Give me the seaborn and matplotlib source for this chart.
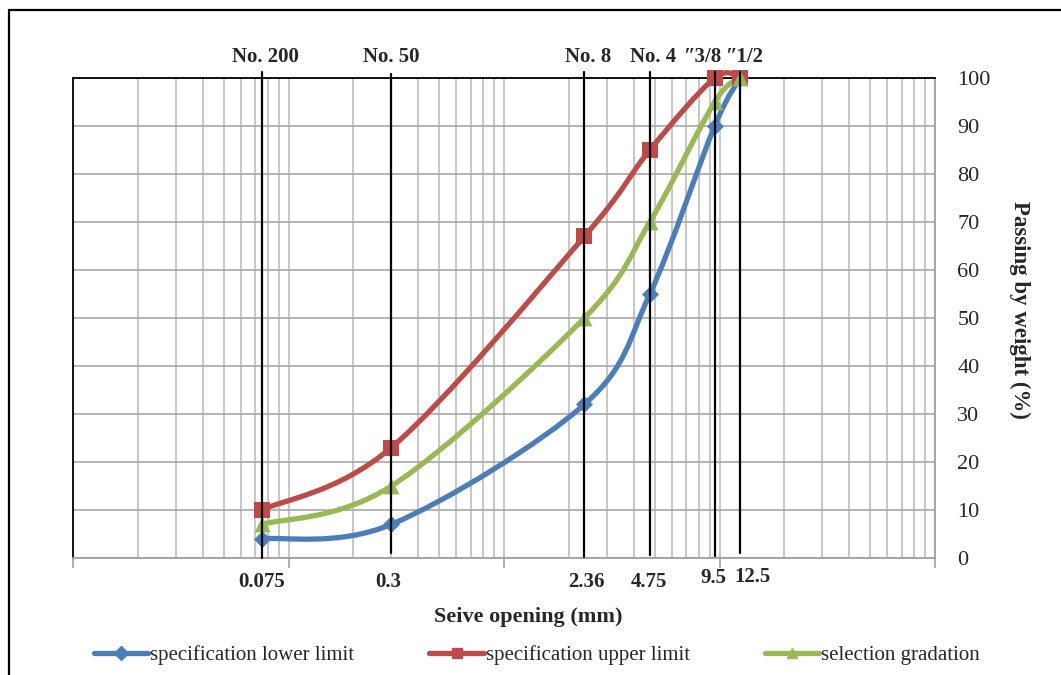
import numpy as np
import pandas as pd
import matplotlib
matplotlib.use("Agg")
import matplotlib.pyplot as plt
import seaborn as sns
from matplotlib.path import Path
from matplotlib.patches import PathPatch
from matplotlib.lines import Line2D
from matplotlib.ticker import LogLocator, NullFormatter

# ---------------- data ----------------
sieve_mm = [0.075, 0.3, 2.36, 4.75, 9.5, 12.5]
sieve_names = ["No. 200", "No. 50", "No. 8", "No. 4", "\u20333/8", "\u20331/2"]
sieve_labels = ["0.075", "0.3", "2.36", "4.75", "9.5", "12.5"]
lower_limit = [4, 7, 32, 55, 90, 100]
upper_limit = [10, 23, 67, 85, 100, 100]
selection = [7, 15, 50, 70, 95, 100]
series_names = ["specification lower limit", "specification upper limit", "selection gradation"]
y_ticks = list(range(0, 101, 10))

# ---------------- style ----------------
colors = ["#4a7ebb", "#be4b48", "#98b954"]
markers = ["D", "s", "^"]
marker_sizes = [75, 120, 130]
# label offsets in pixels (dx, dy)
top_offsets = [(4, 0), (0, 0), (4, 0), (3, 0), (-12, 0), (5, 0)]
bot_offsets = [(0, 0), (-3, 0), (2, 0), (-1, 0), (-1, 4), (12, 5)]

sns.set_theme(style="white")
plt.rcParams["font.family"] = ["Liberation Serif", "DejaVu Serif"]

W, H = 1061, 675
fig = plt.figure(figsize=(W / 100, H / 100), dpi=100)
ax = fig.add_axes([73 / W, 1 - 558 / H, (935 - 73) / W, 480 / H])
ax.set_xscale("log")
ax.set_xlim(0.01, 100)
ax.set_ylim(0, 100)

# grid
ax.xaxis.set_major_locator(LogLocator(base=10, numticks=10))
ax.xaxis.set_minor_locator(LogLocator(base=10, subs=np.arange(2, 10), numticks=20))
ax.xaxis.set_major_formatter(NullFormatter())
ax.xaxis.set_minor_formatter(NullFormatter())
ax.grid(which="both", axis="x", color="#bdbdbd", lw=1.2)
ax.grid(which="major", axis="y", color="#a8a8a8", lw=1.2)
ax.set_axisbelow(True)
ax.tick_params(axis="x", which="major", length=7, width=1.2, color="#a0a0a0", direction="out", bottom=True)
ax.tick_params(axis="x", which="minor", length=0)

ax.yaxis.tick_right()
ax.set_yticks(y_ticks)
ax.set_yticklabels([str(v) for v in y_ticks], fontsize=16)
ax.tick_params(axis="y", length=0, pad=16)

for side, col in [("left", "black"), ("top", "black"), ("bottom", "#a0a0a0"), ("right", "#a0a0a0")]:
    ax.spines[side].set_visible(True)
    ax.spines[side].set_color(col)
    ax.spines[side].set_linewidth(1.3)


def smooth_path(xs, ys):
    P = np.column_stack([np.log10(xs), np.asarray(ys, float)])
    n = len(P)
    verts = [P[0]]
    codes = [Path.MOVETO]
    for i in range(n - 1):
        p0 = P[max(i - 1, 0)]
        p1 = P[i]
        p2 = P[i + 1]
        p3 = P[min(i + 2, n - 1)]
        c1 = p1 + (p2 - p0) / 6.0
        c2 = p2 - (p3 - p1) / 6.0
        verts += [c1, c2, p2]
        codes += [Path.CURVE4] * 3
    V = np.array(verts)
    V[:, 0] = 10 ** V[:, 0]
    return Path(V, codes)


series_values = [lower_limit, upper_limit, selection]
df = pd.DataFrame({
    "sieve": np.tile(sieve_mm, 3),
    "passing": np.concatenate(series_values),
    "series": np.repeat(series_names, len(sieve_mm)),
})

for name, vals, c, m, s in zip(series_names, series_values, colors, markers, marker_sizes):
    patch = PathPatch(smooth_path(sieve_mm, vals), facecolor="none", edgecolor=c,
                      lw=3.8, transform=ax.transData, zorder=3, clip_on=False,
                      capstyle="round", joinstyle="round")
    ax.add_patch(patch)
    sub = df[df["series"] == name]
    sns.scatterplot(data=sub, x="sieve", y="passing", color=c, marker=m, s=s,
                    linewidth=0, ax=ax, legend=False, zorder=4, clip_on=False)

ax.set_xlabel("")
ax.set_ylabel("")

# black sieve lines
line_tops = [101.3, 100.8, 101.3, 101.3, 101.3, 101.3]
line_bottoms = [0.0, 1.0, 0.2, 0.6, 0.4, 1.0]
for x, y0, y1 in zip(sieve_mm, line_bottoms, line_tops):
    ax.plot([x, x], [y0, y1], color="black", lw=1.6, clip_on=False, zorder=5)

# top sieve names
for x, name, (dx, dy) in zip(sieve_mm, sieve_names, top_offsets):
    ax.annotate(name, xy=(x, 104.4), xytext=(dx, dy), textcoords="offset pixels",
                ha="center", va="center", fontsize=15, fontweight="bold",
                annotation_clip=False)

# bottom sieve openings
for x, lab, (dx, dy) in zip(sieve_mm, sieve_labels, bot_offsets):
    ax.annotate(lab, xy=(x, -5.0), xytext=(dx, dy), textcoords="offset pixels",
                ha="center", va="center", fontsize=15, fontweight="bold",
                annotation_clip=False)

fig.text(528 / W, 1 - 617 / H, "Seive opening (mm)", ha="center", va="center",
         fontsize=16, fontweight="bold")
fig.text(1020 / W, 1 - 310 / H, "Passing by weight (%)", ha="center", va="center",
         fontsize=16.5, fontweight="bold", rotation=270)

handles = [Line2D([], [], color=c, lw=3.8, marker=m, markersize=7)
           for c, m in zip(colors, markers)]
fig.legend(handles, series_names, loc="center", bbox_to_anchor=(537 / W, 1 - 655 / H),
           ncol=3, frameon=False, fontsize=15, handlelength=2.6, handletextpad=0.1,
           columnspacing=3.6)

# outer frame
fig.add_artist(Line2D([9 / W, 9 / W], [0, 1 - 10 / H], transform=fig.transFigure,
                      color="black", lw=1.6))
fig.add_artist(Line2D([9 / W, 1], [1 - 10 / H, 1 - 10 / H], transform=fig.transFigure,
                      color="black", lw=1.6))

fig.savefig("out.png", dpi=100)
